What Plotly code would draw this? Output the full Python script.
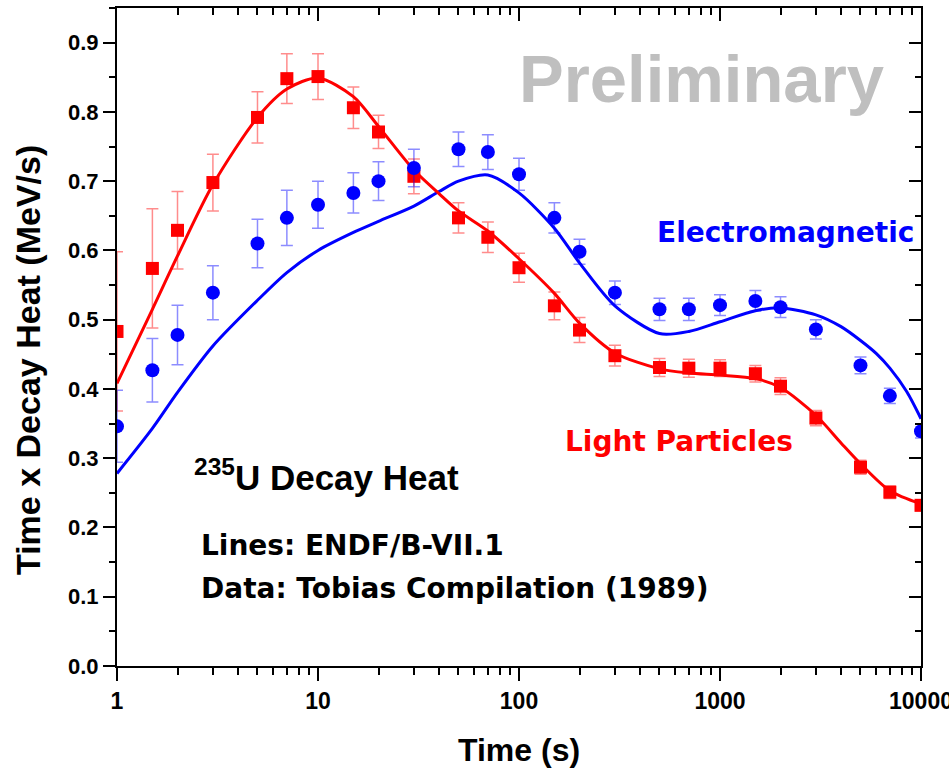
import plotly.graph_objects as go

# ---- data ----
time_pts = [1, 1.5, 2, 3, 5, 7, 10, 15, 20, 30, 50, 70, 100, 150, 200, 300,
            500, 700, 1000, 1500, 2000, 3000, 5000, 7000, 10000]

light_vals = [0.483, 0.574, 0.629, 0.698, 0.792, 0.848, 0.851, 0.806, 0.771, 0.707,
              0.647, 0.619, 0.575, 0.520, 0.485, 0.448, 0.431, 0.430, 0.430, 0.422,
              0.404, 0.358, 0.287, 0.251, 0.232]
light_err = [0.115, 0.086, 0.056, 0.041, 0.037, 0.036, 0.033, 0.030, 0.024, 0.025,
             0.022, 0.022, 0.021, 0.020, 0.018, 0.015, 0.013, 0.013, 0.012, 0.012,
             0.012, 0.011, 0.010, 0.009, 0.008]

em_vals = [0.346, 0.427, 0.478, 0.539, 0.610, 0.647, 0.666, 0.683, 0.700, 0.719,
           0.746, 0.742, 0.710, 0.647, 0.598, 0.539, 0.515, 0.515, 0.521, 0.527,
           0.518, 0.486, 0.434, 0.390, 0.339]
em_err = [0.052, 0.046, 0.043, 0.039, 0.035, 0.040, 0.034, 0.029, 0.028, 0.027,
          0.025, 0.025, 0.023, 0.022, 0.018, 0.017, 0.016, 0.016, 0.015, 0.015,
          0.015, 0.014, 0.012, 0.011, 0.010]

light_line_t = [1, 1.5, 2, 3, 5, 7, 10, 15, 20, 30, 40, 50, 70, 100, 150, 200, 300,
                500, 700, 1000, 1500, 2000, 3000, 4000, 5000, 7000, 10000]
light_line = [0.408, 0.515, 0.592, 0.695, 0.792, 0.833, 0.849, 0.822, 0.779, 0.716,
              0.682, 0.657, 0.628, 0.588, 0.538, 0.495, 0.452, 0.429, 0.423, 0.420,
              0.415, 0.402, 0.362, 0.322, 0.292, 0.253, 0.234]

em_line_t = [1, 1.5, 2, 3, 5, 7, 10, 15, 20, 30, 40, 50, 70, 100, 150, 200, 300,
             500, 700, 1000, 1500, 2000, 3000, 4000, 5000, 6000, 7000, 8500, 10000]
em_line = [0.278, 0.343, 0.395, 0.462, 0.528, 0.568, 0.600, 0.626, 0.642, 0.664,
           0.685, 0.700, 0.709, 0.683, 0.632, 0.582, 0.520, 0.480, 0.483, 0.497,
           0.513, 0.517, 0.507, 0.490, 0.470, 0.451, 0.430, 0.396, 0.357]

x_tickvals = [1, 10, 100, 1000, 10000]
x_ticktext = ["1", "10", "100", "1000", "10000"]
y_tickvals = [0.0, 0.1, 0.2, 0.3, 0.4, 0.5, 0.6, 0.7, 0.8, 0.9]

RED = "#ff0000"
BLUE = "#0000ff"
ARIAL = "Liberation Sans, Arial, sans-serif"

minor_x = [m * 10 ** k for k in range(4) for m in range(2, 10)]

fig = go.Figure()
fig.add_trace(go.Scatter(x=em_line_t, y=em_line, mode="lines",
                         line=dict(color=BLUE, width=3, shape="spline", smoothing=0.8),
                         showlegend=False, hoverinfo="skip"))
fig.add_trace(go.Scatter(x=light_line_t, y=light_line, mode="lines",
                         line=dict(color=RED, width=3, shape="spline", smoothing=0.8),
                         showlegend=False, hoverinfo="skip"))
fig.add_trace(go.Scatter(x=time_pts, y=light_vals, mode="markers",
                         marker=dict(symbol="square", size=13, color=RED),
                         error_y=dict(type="data", array=light_err, color="rgba(255,0,0,0.45)",
                                      thickness=1.5, width=6),
                         showlegend=False))
fig.add_trace(go.Scatter(x=time_pts, y=em_vals, mode="markers",
                         marker=dict(symbol="circle", size=14, color=BLUE),
                         error_y=dict(type="data", array=em_err, color="rgba(0,0,255,0.45)",
                                      thickness=1.5, width=6),
                         showlegend=False))
# empty trace so the mirrored (top/right) frame axes get drawn
fig.add_trace(go.Scatter(x=[], y=[], xaxis="x2", yaxis="y2", mode="markers",
                         showlegend=False, hoverinfo="skip"))

axis_common = dict(showgrid=False, zeroline=False, showline=True, linecolor="black",
                   linewidth=2, tickcolor="black", tickwidth=2, automargin=False)

L, R, T, B = 117, 28, 8, 104
W, H = 949, 770
PW, PH = W - L - R, H - T - B


def px(x):
    return (x - L) / PW


def py(y):
    return (H - B - y) / PH


fig.update_layout(
    width=W, height=H, autosize=False,
    margin=dict(l=L, r=R, t=T, b=B),
    paper_bgcolor="white", plot_bgcolor="white",
    showlegend=False,
    xaxis=dict(type="log", range=[0, 4], tickmode="array", tickvals=x_tickvals,
               ticktext=x_ticktext, ticks="outside", ticklen=13,
               ticklabeloverflow="allow",
               tickfont=dict(family=ARIAL, size=23, color="black", weight="bold"),
               minor=dict(tickmode="array", tickvals=minor_x, ticks="outside",
                          ticklen=7, tickwidth=2, tickcolor="black"),
               **axis_common),
    yaxis=dict(range=[0, 0.95], tickmode="array", tickvals=y_tickvals, tickformat=".1f",
               ticks="outside", ticklen=12,
               tickfont=dict(family=ARIAL, size=22, color="black", weight="bold"),
               minor=dict(dtick=0.05, tick0=0, ticks="outside", ticklen=6, tickwidth=2,
                          tickcolor="black"),
               **axis_common),
    xaxis2=dict(type="log", range=[0, 4], overlaying="x", side="top", anchor="y2",
                tickmode="array", tickvals=x_tickvals, ticks="inside", ticklen=13,
                showticklabels=False,
                minor=dict(tickmode="array", tickvals=minor_x, ticks="inside",
                           ticklen=7, tickwidth=2, tickcolor="black"),
                **axis_common),
    yaxis2=dict(range=[0, 0.95], overlaying="y", side="right", anchor="x2",
                tickmode="array", tickvals=y_tickvals, ticks="inside", ticklen=12,
                showticklabels=False,
                minor=dict(dtick=0.05, tick0=0, ticks="inside", ticklen=6, tickwidth=2,
                           tickcolor="black"),
                **axis_common),
)

annots = [
    dict(text="<b>Preliminary</b>", x=px(886), y=py(79), xanchor="right", yanchor="middle",
         font=dict(family=ARIAL, size=67, color="#bfbfbf")),
    dict(text="<b>Electromagnetic</b>", x=px(916), y=py(232), xanchor="right", yanchor="middle",
         font=dict(family="DejaVu Sans", size=28, color=BLUE)),
    dict(text="<b>Light Particles</b>", x=px(563), y=py(441), xanchor="left", yanchor="middle",
         font=dict(family="DejaVu Sans", size=28, color=RED)),
    dict(text="<b><sup>235</sup>U Decay Heat</b>", x=px(192), y=py(475), xanchor="left",
         yanchor="middle", font=dict(family=ARIAL, size=35, color="black")),
    dict(text="<b>Lines: ENDF/B-VII.1</b>", x=px(199), y=py(545), xanchor="left",
         yanchor="middle", font=dict(family="DejaVu Sans", size=28, color="black")),
    dict(text="<b>Data: Tobias Compilation (1989)</b>", x=px(199), y=py(588), xanchor="left",
         yanchor="middle", font=dict(family="DejaVu Sans", size=28, color="black")),
    dict(text="<b>Time (s)</b>", x=px(519), y=py(750), xanchor="center", yanchor="middle",
         font=dict(family=ARIAL, size=32, color="black")),
    dict(text="<b>Time x Decay Heat (MeV/s)</b>", x=px(28), y=py(360), xanchor="center",
         yanchor="middle", textangle=-90,
         font=dict(family=ARIAL, size=34, color="black")),
]
for a in annots:
    fig.add_annotation(xref="paper", yref="paper", showarrow=False, **a)

fig.write_html("out.html", config={"displayModeBar": False},
               post_script="document.body.style.margin='0';document.body.style.overflow='hidden';")
